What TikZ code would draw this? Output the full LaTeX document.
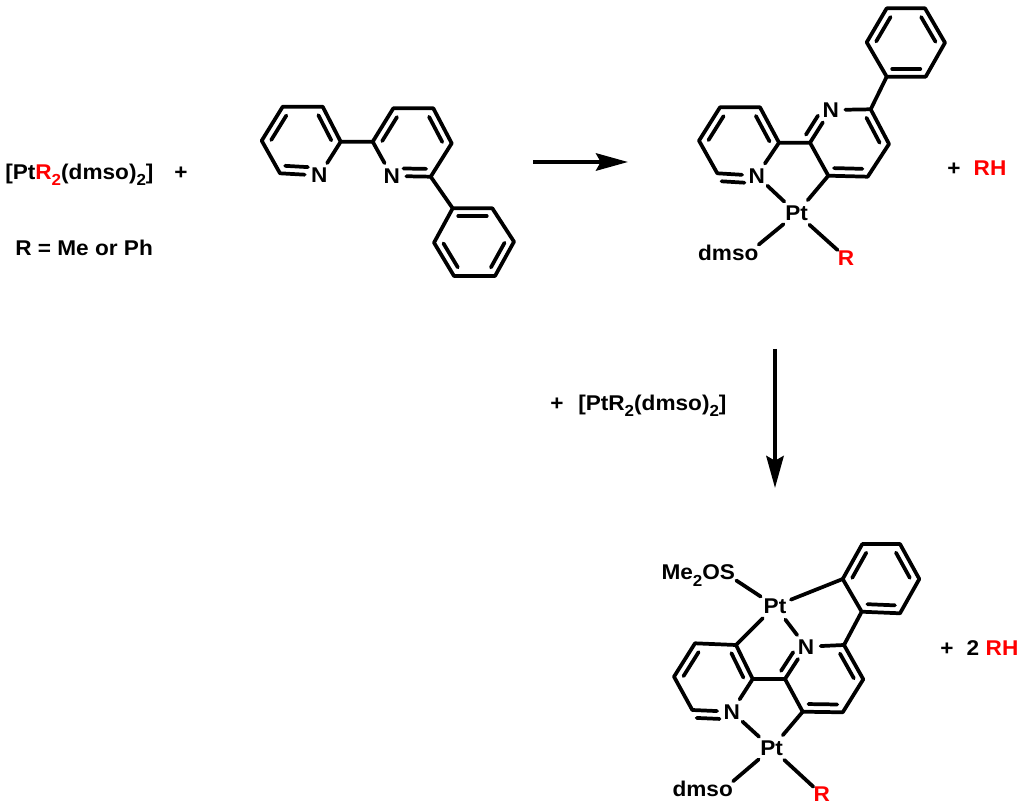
\documentclass[tikz,border=0pt]{standalone}
\usepackage{fontspec}
\setmainfont{Liberation Sans}[BoldFont={Liberation Sans Bold},BoldFeatures={FakeStretch=1.06}]
\usetikzlibrary{calc,arrows.meta}
\definecolor{rred}{RGB}{255,0,0}
\newcommand\lowtwo{\raisebox{-0.3em}{\fontsize{12}{12}\selectfont\bfseries 2}}
\newcommand\dbspan[4]{\draw[bondline] ($(#3)!#1!(#4)!5.8pt!-90:(#4)$) -- ($(#3)!#2!(#4)!5.8pt!-90:(#4)$);}
\newcommand\dbond[2]{\dbspan{.14}{.86}{#1}{#2}}
\newcommand\dbfromN[2]{\dbspan{.30}{.88}{#1}{#2}}
\newcommand\dbtoN[2]{\dbspan{.12}{.70}{#1}{#2}}
\tikzset{
  bondline/.style={line width=2.8pt,line cap=round,line join=round,black},
  atom/.style={circle,inner sep=1.8pt,font=\fontsize{16}{17}\selectfont\bfseries,text=black},
  lbl/.style={inner sep=0pt,font=\fontsize{16}{17}\selectfont\bfseries,text=black},
  redlbl/.style={lbl,text=rred},
  rxnarrow/.style={line width=3pt,-{Stealth[length=24pt,width=13pt,inset=3.5pt]}}
}
\begin{document}
\begin{tikzpicture}[x=0.75pt,y=-0.75pt]
\useasboundingbox (0,0) rectangle (1024,805);
% ---- free ligand
\coordinate (a1) at (282.7,106.7); \coordinate (a2) at (322.7,106.7); \coordinate (a3) at (340.7,141.7);
\node[atom] (aN) at (319.3,175.5) {N};
\coordinate (a5) at (280,173.3); \coordinate (a6) at (261.7,140.7);
\coordinate (b1) at (372.7,141.7); \coordinate (b2) at (393.3,108.3); \coordinate (b3) at (433.3,108.3);
\coordinate (b4) at (451.7,143.3); \coordinate (b5) at (430.7,176.7);
\node[atom] (bN) at (391.7,176) {N};
\coordinate (c1) at (452.7,208.3); \coordinate (c2) at (492.3,208.3); \coordinate (c3) at (514,241.7);
\coordinate (c4) at (495,276); \coordinate (c5) at (454,276); \coordinate (c6) at (434,242.7);
\draw[bondline] (a3)--(a2)--(a1)--(a6)--(a5)--(aN) (aN)--(a3)--(b1)--(bN) (b1)--(b2)--(b3)--(b4)--(b5)--(bN) (b5)--(c1)--(c2)--(c3)--(c4)--(c5)--(c6)--(c1);
\dbond{a2}{a3}\dbond{a6}{a1}\dbfromN{aN}{a5}
\dbond{b1}{b2}\dbond{b3}{b4}\dbtoN{b5}{bN}
\dbond{c1}{c2}\dbond{c3}{c4}\dbond{c5}{c6}
% ---- monoplatinum complex
\coordinate (p1) at (886.7,8.3); \coordinate (p2) at (925,8.3); \coordinate (p3) at (945,42.7);
\coordinate (p4) at (925.7,76.7); \coordinate (p5) at (886.7,76.7); \coordinate (p6) at (866.7,42.3);
\node[atom] (qN) at (830.7,110) {N};
\coordinate (q2) at (870.7,109.3); \coordinate (q3) at (889,144); \coordinate (q4) at (867.7,176.7);
\coordinate (q5) at (828.3,175.7); \coordinate (q6) at (810,142.7);
\coordinate (r1) at (779,142.7); \coordinate (r2) at (760,107.3); \coordinate (r3) at (720,107.3);
\coordinate (r4) at (699,140.7); \coordinate (r5) at (717.3,173.3);
\node[atom] (rN) at (756.7,175.7) {N};
\node[atom] (pta) at (796.7,213.3) {Pt};
\node[lbl] (da) at (728.3,252.7) {dmso};
\node[redlbl] (ra) at (846,257.7) {R};
\draw[bondline] (p1)--(p2)--(p3)--(p4)--(p5)--(p6)--(p1) (p5)--(q2) (qN)--(q2)--(q3)--(q4)--(q5)--(q6)--(qN) (q6)--(r1)--(r2)--(r3)--(r4)--(r5)--(rN)--(r1) (rN)--(pta)--(q5) (pta)--(da.north east) (pta)--(ra.north west);
\dbond{p6}{p1}\dbond{p2}{p3}\dbond{p4}{p5}
\dbfromN{qN}{q6}\dbond{q2}{q3}\dbond{q4}{q5}
\dbond{r2}{r1}\dbond{r4}{r3}\dbtoN{r5}{rN}
% ---- diplatinum complex
\coordinate (s1) at (862.3,544); \coordinate (s2) at (900,544); \coordinate (s3) at (919.3,579);
\coordinate (s4) at (900,613.3); \coordinate (s5) at (861.7,611.7); \coordinate (s6) at (842.7,579);
\node[atom] (tN) at (806,646.7) {N};
\coordinate (t2) at (844,645); \coordinate (t3) at (863.3,679.3); \coordinate (t4) at (842.7,712.3);
\coordinate (t5) at (802.7,711.7); \coordinate (t6) at (785,679);
\coordinate (u1) at (752.7,679); \coordinate (u2) at (736,645); \coordinate (u3) at (695,643.3);
\coordinate (u4) at (674,676.7); \coordinate (u5) at (692.3,710);
\node[atom] (uN) at (731.7,711.7) {N};
\node[atom] (ptb) at (775,606) {Pt};
\node[atom] (ptc) at (771.7,748.3) {Pt};
\node[lbl] (me) at (698.3,575.5) {Me\lowtwo OS};
\node[lbl] (db) at (702.7,789.3) {dmso};
\node[redlbl] (rb) at (821.7,794.3) {R};
\draw[bondline] (s1)--(s2)--(s3)--(s4)--(s5)--(s6)--(s1) (s5)--(t2) (tN)--(t2)--(t3)--(t4)--(t5)--(t6)--(tN) (t6)--(u1)--(u2)--(u3)--(u4)--(u5)--(uN)--(u1);
\draw[bondline] (ptb)--(s6) (ptb)--(u2) (ptb)--(tN) (ptb)--($(me.east)+(1,5)$) (ptc)--(uN) (ptc)--(t5) (ptc)--(db.north east) (ptc)--(rb.north west);
\dbond{s6}{s1}\dbond{s2}{s3}\dbond{s4}{s5}
\dbfromN{tN}{t6}\dbond{t2}{t3}\dbond{t4}{t5}
\dbond{u2}{u1}\dbond{u4}{u3}\dbtoN{u5}{uN}
% ---- text
\node[lbl,anchor=base west] (reag) at (5,179.5) {[Pt\textcolor{rred}{R\lowtwo}(dmso)\lowtwo]};
\node[lbl,anchor=base] (plusa) at (181,179.5) {+};
\node[lbl,anchor=base west] (rdef) at (15,255.7) {R = Me or Ph};
\node[lbl,anchor=base] (plusb) at (954,175.5) {+};
\node[redlbl,anchor=base] (rh) at (990,175.5) {RH};
\node[lbl,anchor=base] (plusd) at (557,410) {+};
\node[lbl,anchor=base west] (reagb) at (578,410) {[PtR\lowtwo(dmso)\lowtwo]};
\node[lbl,anchor=base] (plusc) at (947,655) {+};
\node[lbl,anchor=base] (two) at (973,655) {2};
\node[redlbl,anchor=base] (rhb) at (1002,655) {RH};
% ---- arrows
\coordinate (h0) at (533,162); \coordinate (h1) at (628,162);
\coordinate (v0) at (775,349); \coordinate (v1) at (775,488);
\draw[rxnarrow] (h0)--(h1);
\draw[rxnarrow] (v0)--(v1);
\end{tikzpicture}
\end{document}
